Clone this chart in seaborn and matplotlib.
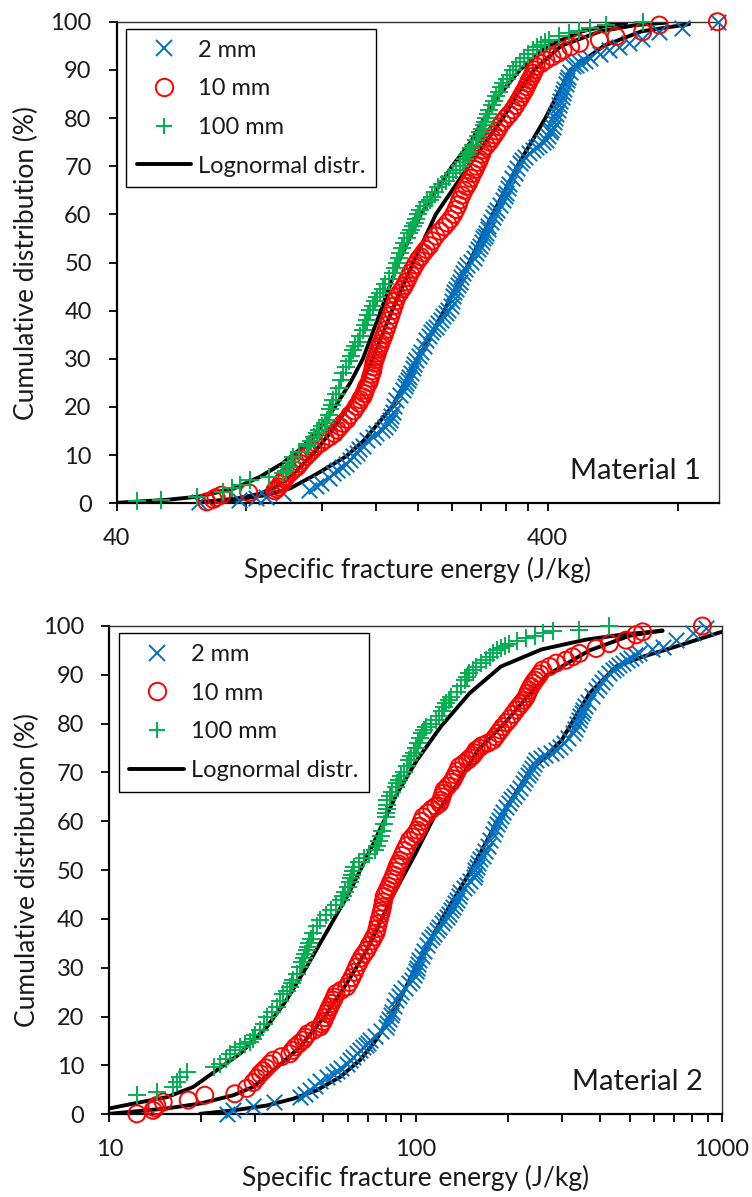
import numpy as np
import pandas as pd
import matplotlib
matplotlib.use("Agg")
import matplotlib.pyplot as plt
import seaborn as sns
from matplotlib.markers import MarkerStyle
from matplotlib.lines import Line2D
from matplotlib.ticker import NullFormatter

# ---------------- data: Material 1 ----------------
m1_2mm_energy = [62, 77, 84, 89, 97, 112, 116, 119, 124, 127, 130, 133, 136, 139, 141, 144, 146, 149, 152, 157,
                 160, 165, 168, 170, 172, 173, 175, 176, 178, 182, 185, 187, 188, 190, 191, 193, 195, 196, 198, 201,
                 203, 206, 209, 212, 214, 217, 220, 223, 226, 229, 232, 235, 238, 240, 241, 243, 245, 248, 250, 252,
                 254, 257, 260, 265, 270, 273, 276, 278, 281, 283, 286, 288, 290, 291, 295, 298, 302, 305, 310, 315,
                 318, 320, 323, 326, 331, 335, 340, 344, 349, 355, 362, 369, 376, 382, 389, 396, 400, 404, 408, 411,
                 414, 416, 419, 422, 425, 428, 431, 434, 437, 440, 443, 445, 451, 457, 465, 474, 487, 500, 530, 556,
                 585, 618, 660, 726, 818, 992]
m1_2mm_cum = [0.3, 0.6, 1.0, 1.4, 2.1, 2.8, 3.5, 4.2, 5.2, 6.2, 6.9, 7.5, 8.2, 9.0, 9.8, 10.5, 11.2, 12.0, 13.1, 13.8,
              14.5, 15.2, 15.9, 16.6, 17.3, 18.2, 19.0, 20.2, 21.4, 22.4, 23.5, 24.3, 25.0, 25.7, 26.3, 27.1, 28.0, 28.9, 29.8, 30.6,
              31.5, 32.6, 33.9, 34.7, 35.5, 36.1, 36.7, 37.4, 38.0, 38.8, 39.5, 40.2, 41.0, 42.0, 43.0, 43.8, 44.6, 45.3, 46.0, 46.9,
              47.8, 48.6, 49.5, 50.2, 51.0, 51.9, 52.7, 53.5, 54.3, 55.0, 55.6, 56.1, 56.9, 57.6, 58.5, 59.5, 60.3, 61.0, 62.0, 63.0,
              63.8, 64.5, 65.5, 66.4, 67.5, 68.5, 69.6, 70.6, 71.3, 72.0, 72.7, 73.4, 74.0, 74.5, 75.0, 75.5, 76.2, 77.0, 77.6, 78.2,
              79.1, 80.0, 80.8, 81.7, 82.6, 83.5, 84.3, 85.1, 86.0, 87.0, 87.8, 88.6, 89.6, 90.7, 91.0, 91.4, 91.9, 92.4, 93.3, 94.1,
              94.8, 95.5, 96.5, 97.9, 98.6, 100.0]

m1_10mm_energy = [64.7, 67, 68, 70, 81, 93, 94, 95, 96, 97, 98, 99, 101, 103, 105, 106.5, 108, 110, 112, 114,
                  116, 119, 122, 125, 128, 130, 132, 134, 137, 139, 142, 144, 146, 147, 149, 150, 151, 152, 154, 155,
                  156, 157, 157.5, 158, 159, 160, 161, 162, 163, 164, 165.5, 167, 168.5, 170, 171.5, 173, 174.5, 176, 177.5, 179,
                  181.5, 184, 186, 188, 190, 192, 194.5, 197, 200, 203, 206, 209, 213, 216, 220, 225, 230, 234, 238, 242,
                  245, 248, 250, 253, 256, 259, 262, 265, 268, 271, 273, 276, 278, 281, 283, 288, 293, 297, 301, 305,
                  309, 314, 320, 326, 332, 337, 342, 346, 350, 354, 357, 360, 363, 367, 370, 373, 376, 386, 396, 409,
                  422, 434, 452, 474, 527, 576, 664, 726, 990]
m1_10mm_cum = [0.3, 0.8, 1.2, 1.7, 2.2, 2.6, 3.0, 3.4, 4.0, 4.5, 5.0, 5.5, 6.3, 7.0, 7.6, 8.3, 9.0, 9.7, 10.4, 11.1,
               11.8, 12.5, 13.2, 13.8, 14.5, 15.2, 15.9, 16.6, 17.4, 18.3, 19.2, 20.1, 20.8, 21.5, 22.1, 22.8, 23.5, 24.2, 25.1, 26.0,
               26.8, 27.5, 28.3, 29.1, 29.8, 30.5, 31.2, 32.0, 32.6, 33.2, 34.1, 35.0, 36.0, 37.0, 38.0, 39.0, 40.0, 41.0, 42.0, 42.9,
               43.7, 44.5, 45.2, 46.0, 46.9, 47.8, 48.6, 49.5, 50.5, 51.2, 52.0, 52.7, 53.5, 54.5, 55.5, 56.5, 57.4, 58.2, 59.0, 60.0,
               61.0, 62.0, 63.0, 64.0, 65.0, 65.8, 66.5, 67.5, 68.5, 69.3, 70.0, 70.8, 71.5, 72.5, 73.4, 74.2, 75.0, 75.8, 76.5, 77.3,
               78.2, 79.1, 80.0, 80.8, 81.7, 82.6, 83.5, 84.3, 85.1, 85.8, 86.5, 87.2, 87.9, 88.6, 89.3, 90.0, 90.7, 91.3, 92.0, 92.7,
               93.4, 94.1, 94.8, 95.5, 96.2, 96.9, 97.9, 99.3, 100.0]

m1_100mm_energy = [44.5, 50.8, 61.3, 70.7, 74, 77.3, 81.5, 90, 97.4, 99, 100, 101.5, 102.8, 106, 110.4, 112, 113, 115, 116.5, 118,
                   120, 121.5, 122.8, 124, 125, 126, 127.3, 129, 131, 132.5, 134.2, 136, 138, 140, 141.6, 143, 145, 147, 149.3, 150.5,
                   152, 153.5, 154.8, 157, 159, 161, 163.4, 165.5, 168, 171, 175, 177, 179, 180.5, 182, 184, 186, 188.5, 191, 193,
                   195, 196.5, 198, 200, 202, 206, 210, 213, 216, 219, 223, 227, 232, 236, 241, 245, 250, 254, 257, 260,
                   263, 266, 268, 273, 276, 279, 282, 284, 286, 288, 290.5, 293, 296.5, 300, 304, 308, 311.5, 315, 321, 327,
                   332, 338, 345, 352, 360, 369, 377, 385, 394, 403, 425, 449, 472, 500, 546, 664]
m1_100mm_cum = [0.4, 0.7, 1.4, 2.4, 3.2, 3.8, 4.8, 5.5, 6.2, 6.8, 7.5, 8.5, 9.7, 10.7, 11.8, 12.4, 13.0, 13.7, 14.5, 15.2,
                16.0, 16.6, 17.3, 18.3, 19.5, 20.5, 21.5, 22.7, 24.0, 25.5, 27.0, 28.2, 29.5, 30.6, 31.8, 32.6, 33.5, 34.7, 36.0, 37.0,
                38.0, 39.0, 40.1, 41.0, 42.0, 42.8, 43.6, 44.5, 45.5, 46.6, 47.8, 48.9, 50.0, 51.0, 52.0, 53.0, 54.0, 55.0, 56.1, 56.8,
                57.5, 58.3, 59.0, 60.0, 60.9, 61.7, 62.5, 63.0, 63.5, 64.6, 65.7, 66.4, 67.0, 67.8, 68.5, 69.3, 70.0, 70.8, 71.5, 72.3,
                73.0, 73.8, 74.5, 75.4, 76.2, 77.0, 77.8, 78.5, 79.2, 80.0, 80.9, 81.7, 82.6, 83.5, 84.5, 85.5, 86.4, 87.2, 88.1, 89.0,
                89.9, 90.7, 91.6, 92.5, 93.3, 94.1, 94.7, 95.2, 95.7, 96.2, 97.0, 97.6, 98.1, 98.6, 99.3, 100.0]

# lognormal fits, Material 1 (energy read at cumulative levels)
m1_fit_2mm_energy = [62, 75, 89, 101, 117, 136, 150, 174, 200, 230, 263, 298, 340, 395, 452, 540, 660, 851]
m1_fit_2mm_cum = [0.2, 0.7, 1.7, 3.1, 6.2, 9.7, 13.1, 20, 30, 40, 50, 60, 70, 80, 90, 95, 98, 99.5]
m1_fit_10mm_energy = [62, 76, 86, 94, 101, 108, 116, 126, 138, 148, 157, 174, 195, 220, 262, 315, 340, 372, 430, 530, 640, 753]
m1_fit_10mm_cum = [0.2, 1, 2, 3.5, 5.5, 8, 11, 15, 20, 25, 30, 40, 50, 60, 70, 80, 85, 90, 95, 98, 99.3, 99.8]
m1_fit_100mm_energy = [40, 52, 62, 75, 86, 97, 106, 116, 127, 139, 149, 164, 180, 203, 240, 265, 285, 310, 345, 400, 480, 550, 608]
m1_fit_100mm_cum = [0.1, 0.7, 1.4, 3.1, 5.5, 8.3, 11.1, 14.5, 19.4, 24.9, 30, 40, 50, 60, 70, 75, 80, 85, 90, 95, 98, 99.2, 99.7]

# ---------------- data: Material 2 ----------------
m2_2mm_energy = [24.2, 25.4, 29.5, 34.4, 42.0, 43.5, 45.2, 47, 48.8, 51.3, 53.9, 55.4, 57, 59.6, 61, 62.5, 64.2, 65.9, 67.4, 69,
                 70, 71.0, 74, 77, 80.1, 81, 82, 83, 84, 85.2, 86.4, 88.2, 90, 92.7, 95.5, 97.2, 99, 100, 101, 102,
                 103, 105, 107, 109, 110.9, 113, 115, 117.3, 119.6, 121.8, 124, 126.5, 128.9, 131, 133, 135, 137, 138.5, 140, 143.5,
                 147, 151, 155, 156, 157, 158.5, 160, 163, 166, 169, 172, 175.4, 178.8, 182, 185, 187.5, 190, 193.8, 197.6, 201.3,
                 205, 210, 215, 219.5, 223.9, 228.5, 233, 236.5, 240, 243.8, 247.6, 256, 265, 276, 287.5, 296, 305, 315.5, 326, 331.5,
                 337, 341, 345, 348.5, 352, 358.5, 365, 377, 388.6, 397, 405, 417, 430, 440, 450, 462, 475, 490, 505, 522,
                 538, 590, 641, 709, 804, 889]
m2_2mm_cum = [0.1, 0.8, 1.8, 2.5, 3.5, 4.2, 4.9, 5.8, 6.9, 7.6, 8.3, 8.9, 9.4, 10.4, 11.1, 11.8, 12.5, 13.1, 13.7, 14.2,
              14.7, 15.2, 16.0, 17.0, 17.9, 18.7, 19.5, 20.3, 21.0, 22.2, 23.4, 24.2, 25.0, 25.9, 26.8, 27.6, 28.5, 29.3, 30.0, 30.8,
              31.6, 32.5, 33.5, 34.6, 35.7, 36.3, 37.0, 37.7, 38.4, 39.1, 39.8, 40.5, 41.1, 41.8, 42.5, 43.2, 43.9, 44.7, 45.5, 46.3,
              47.0, 47.8, 48.6, 49.3, 50.0, 50.7, 51.4, 52.2, 53.0, 54.0, 55.0, 56.2, 57.5, 58.5, 59.5, 60.2, 61.0, 62.0, 63.0, 63.7,
              64.5, 65.2, 66.0, 66.9, 67.8, 68.7, 69.5, 70.2, 71.0, 71.7, 72.5, 73.0, 73.5, 74.0, 74.6, 75.3, 76.0, 77.0, 78.0, 79.0,
              80.0, 80.8, 81.5, 82.2, 82.8, 83.6, 84.5, 85.7, 86.9, 87.7, 88.5, 89.4, 90.3, 90.9, 91.5, 92.0, 92.4, 93.0, 93.5, 94.0,
              94.4, 95.2, 95.8, 97.1, 98.5, 99.5]

m2_10mm_energy = [12.3, 13.9, 14.1, 14.3, 15.0, 18.1, 20.5, 25.7, 28.1, 29.5, 30.3, 31.1, 31.8, 32.5, 33.4, 34.4, 36.5, 38.9, 39.7, 40.5,
                  41.7, 43.0, 43.7, 44.5, 46.5, 48.8, 49.4, 50, 50.6, 51.3, 51.9, 52.5, 53.2, 53.9, 54.4, 55, 57.2, 59.6, 60.8, 62,
                  63.2, 64.3, 65.4, 66.5, 67.9, 69.3, 70.6, 72, 73.1, 74.3, 74.9, 75.5, 76.2, 77, 77.5, 78, 78.5, 79, 80, 81,
                  82, 83, 84, 85, 86, 87, 88, 89, 90.5, 92, 93.7, 95.5, 97.7, 100, 101.5, 103, 104.5, 106, 109.5, 113,
                  116.5, 120, 121, 122, 123, 124, 127.5, 131, 133, 135, 137, 139, 143.5, 148, 151, 154, 156, 158, 161.5, 165,
                  172, 179, 182.5, 186, 189.5, 193, 198, 203, 208, 213, 217.5, 222, 226, 230, 232.5, 235, 238.5, 242, 246, 250,
                  255, 260, 274, 288, 310, 326, 343, 389, 430, 487, 525, 552, 865]
m2_10mm_cum = [0.1, 0.8, 1.3, 1.8, 2.5, 2.9, 3.9, 4.2, 5.3, 6.5, 7.4, 8.3, 8.9, 9.5, 10.3, 11.1, 11.8, 12.4, 13.1, 13.8,
               14.5, 15.2, 15.8, 16.5, 17.2, 17.9, 18.5, 19.0, 19.8, 20.6, 21.3, 22.0, 22.7, 23.4, 24.0, 24.7, 25.4, 26.1, 27.0, 28.0,
               29.1, 30.2, 31.1, 32.0, 32.8, 33.6, 34.6, 35.5, 36.3, 37.1, 38.0, 39.0, 40.0, 41.0, 41.7, 42.5, 43.5, 44.6, 45.3, 46.0,
               46.7, 47.5, 48.2, 49.0, 49.8, 50.7, 51.3, 52.0, 53.0, 54.0, 55.0, 56.1, 56.8, 57.5, 58.2, 59.0, 60.0, 60.9, 61.7, 62.5,
               63.1, 63.7, 64.3, 65.0, 65.7, 66.4, 67.2, 68.0, 68.7, 69.5, 70.3, 71.2, 71.8, 72.5, 73.0, 73.5, 74.0, 74.6, 75.0, 75.5,
               76.0, 76.6, 77.3, 78.0, 78.7, 79.4, 80.2, 81.0, 81.9, 82.8, 83.5, 84.2, 84.8, 85.5, 86.2, 86.9, 87.6, 88.3, 88.9, 89.5,
               90.2, 91.0, 91.7, 92.4, 93.0, 93.7, 94.4, 95.4, 96.4, 97.1, 98.2, 98.8, 100.0]

m2_100mm_energy = [12.3, 14.3, 16.2, 16.6, 17.0, 17.9, 21.9, 23.0, 24, 24.8, 25.8, 26.7, 27.8, 28.8, 29.4, 30, 31.1, 31.9, 32.7, 34,
                   35.2, 36, 37, 38, 39, 39.5, 39.9, 41, 42.0, 42.6, 43.2, 43.7, 44.1, 44.6, 45, 45.7, 46.4, 47.6, 48.8, 51,
                   53, 55, 57, 58, 59, 60, 61, 61.5, 62, 62.5, 63, 65.5, 68, 70.5, 73.5, 75, 76, 77, 78, 79,
                   80.1, 80.3, 80.5, 80.8, 81, 82.5, 84, 86.4, 87.2, 88, 90, 92, 93.5, 95, 97, 99, 100.5, 102, 103.5, 105,
                   106.5, 108, 112, 116.7, 119.5, 122, 124, 126, 128.5, 131, 137, 141, 145, 147.5, 150, 154, 158, 164, 170, 174.5,
                   179, 184.5, 190, 196, 202, 215, 230, 245, 260, 281, 343, 430]
m2_100mm_cum = [3.9, 4.6, 5.6, 6.6, 7.6, 8.7, 9.7, 10.4, 11.4, 12.4, 13.1, 13.8, 14.3, 14.8, 15.5, 16.2, 17.2, 18.5, 19.9, 21.0,
                22.0, 23.3, 24.7, 25.3, 26.0, 26.8, 27.5, 28.8, 30.2, 31.1, 32.0, 32.8, 33.6, 34.3, 35.0, 36.0, 37.1, 38.5, 39.8, 40.8,
                41.8, 42.9, 43.9, 44.7, 45.5, 46.5, 47.5, 48.3, 49.0, 49.8, 50.7, 51.6, 52.5, 53.3, 54.1, 55.0, 56.0, 57.0, 58.0, 59.5,
                60.9, 61.7, 62.5, 63.4, 64.3, 65.2, 66.0, 67.1, 67.8, 68.5, 69.3, 70.0, 71.3, 72.5, 73.3, 74.0, 75.0, 76.0, 77.0, 78.0,
                78.7, 79.4, 80.0, 80.7, 81.6, 82.5, 83.4, 84.2, 84.9, 85.5, 86.5, 87.7, 88.9, 89.6, 90.3, 91.0, 91.7, 92.4, 93.0, 93.7,
                94.4, 95.0, 95.5, 96.0, 96.4, 97.0, 97.5, 98.0, 98.5, 99.0, 99.2, 100.0]

m2_fit_2mm_energy = [19.8, 25.4, 32.7, 39.9, 47.5, 56.6, 65.9, 74.3, 86.4, 100, 122, 152, 185, 235, 300, 370, 452, 552, 709, 1000]
m2_fit_2mm_cum = [0.1, 0.8, 1.8, 3.2, 4.9, 7.6, 11.1, 15.2, 22, 30, 40, 50, 60, 70, 76.6, 86.2, 91.7, 93.7, 95.8, 98.8]
m2_fit_10mm_energy = [10, 15.4, 19.8, 25.4, 29.5, 34.4, 42, 51.3, 59.6, 69.3, 85, 100, 115, 135, 160, 195, 228, 270, 370, 500, 640]
m2_fit_10mm_cum = [0.1, 1.2, 2.2, 3.9, 5.6, 9, 13.8, 20.6, 26.8, 33.6, 45.2, 53.4, 60.9, 67.1, 74.6, 80, 85, 90, 95, 98, 99.1]
m2_fit_100mm_energy = [10, 12, 15.4, 18.8, 22.4, 26.7, 32.7, 37.9, 44.1, 51, 60.5, 72, 87, 101, 121, 150, 190, 258, 360, 480, 641]
m2_fit_100mm_cum = [1.2, 2.2, 3.5, 5.6, 9, 12.4, 17.9, 23.4, 30.2, 37.1, 45.2, 54.8, 65.7, 72.5, 79.4, 86.2, 91.7, 95.2, 97.2, 98.3, 99.0]

series_labels = ["2 mm", "10 mm", "100 mm"]
fit_label = "Lognormal distr."
panel_titles = ["Material 1", "Material 2"]
y_ticks = [0, 10, 20, 30, 40, 50, 60, 70, 80, 90, 100]
m1_xticks = [40, 400]
m1_xminor = [80, 120, 160, 200, 240, 280, 320, 360, 800]
m2_xticks = [10, 100, 1000]
m2_xminor = [20, 30, 40, 50, 60, 70, 80, 90, 200, 300, 400, 500, 600, 700, 800, 900]
xlabel = "Specific fracture energy (J/kg)"
ylabel = "Cumulative distribution (%)"

# ---------------- styling ----------------
sns.set_theme(style="white")
plt.rcParams['font.family'] = ['Lato', 'DejaVu Sans']

BLUE = "#0070C0"
RED = "#FF0000"
GREEN = "#00B050"
TXT = "#1a1a1a"
FS_TICK = 17
FS_LEG = 17
FS_LAB = 19
FS_TITLE = 21

W, H = 752, 1197
fig = plt.figure(figsize=(W / 100, H / 100), dpi=100)


def px_axes(left, top, right, bottom):
    return fig.add_axes([left / W, 1 - bottom / H, (right - left) / W, (bottom - top) / H])


ax1 = px_axes(116.7, 21.7, 719.3, 503.3)
ax2 = px_axes(109.3, 626.0, 721.7, 1114.3)

circle = MarkerStyle('o', fillstyle='none')


def draw(ax, data, fits, xlim, xticks, xminor, title, ylab_x, xlab_y):
    ax.set_xscale('log')
    for fx, fy in fits:
        sns.lineplot(x=fx, y=fy, ax=ax, color='black', lw=2.8, sort=False,
                     estimator=None, zorder=2, legend=False)
    (bx, by), (rx, ry), (gx, gy) = data
    sns.scatterplot(x=bx, y=by, ax=ax, marker='x', color=BLUE, s=125,
                    linewidth=1.4, zorder=3, legend=False)
    sns.scatterplot(x=rx, y=ry, ax=ax, marker=circle, color=RED, s=150,
                    linewidth=1.4, zorder=4, legend=False)
    sns.scatterplot(x=gx, y=gy, ax=ax, marker='+', color=GREEN, s=150,
                    linewidth=1.4, zorder=5, legend=False)
    ax.set_xlim(*xlim)
    ax.set_ylim(0, 100)
    ax.set_xticks(xticks)
    ax.set_xticklabels([str(t) for t in xticks])
    ax.set_xticks(xminor, minor=True)
    ax.xaxis.set_minor_formatter(NullFormatter())
    ax.set_yticks(y_ticks)
    ax.set_yticklabels([str(t) for t in y_ticks])
    ax.tick_params(axis='both', which='both', direction='out', length=6, width=1.3,
                   colors='black', labelcolor=TXT, labelsize=FS_TICK)
    ax.tick_params(axis='x', which='both', bottom=True, top=False, pad=12)
    ax.tick_params(axis='y', which='both', left=True, right=False, pad=12)
    for side in ['left', 'bottom']:
        ax.spines[side].set_linewidth(1.6)
        ax.spines[side].set_color('black')
    for side in ['top', 'right']:
        ax.spines[side].set_linewidth(1.0)
        ax.spines[side].set_color('#303030')
    ax.set_xlabel(xlabel, fontsize=FS_LAB, color=TXT)
    ax.set_ylabel(ylabel, fontsize=FS_LAB, color=TXT)
    ax.xaxis.label.set_va('center')
    ax.yaxis.label.set_va('center')
    ax.xaxis.set_label_coords(0.5, xlab_y)
    ax.yaxis.set_label_coords(ylab_x, 0.5)
    ax.text(0.97, 0.04, title, transform=ax.transAxes, ha='right', va='bottom',
            fontsize=FS_TITLE, color=TXT)
    handles = [
        Line2D([], [], marker='x', color=BLUE, linestyle='None', markersize=11, mew=1.4),
        Line2D([], [], marker='o', mfc='none', mec=RED, color=RED, linestyle='None', markersize=12.5, mew=1.4),
        Line2D([], [], marker='+', color=GREEN, linestyle='None', markersize=12, mew=1.4),
        Line2D([], [], color='black', lw=2.8),
    ]
    leg = ax.legend(handles, series_labels + [fit_label], loc='upper left',
                    bbox_to_anchor=(0.0155, 0.985), borderaxespad=0, frameon=True,
                    fancybox=False, shadow=False, fontsize=FS_LEG, handlelength=2.3,
                    handletextpad=0.3, labelspacing=0.75, borderpad=0.45)
    leg.get_frame().set_edgecolor('black')
    leg.get_frame().set_linewidth(1.0)
    leg.get_frame().set_facecolor('white')
    leg.get_frame().set_alpha(1)
    for t in leg.get_texts():
        t.set_color(TXT)
    leg.set_zorder(10)


draw(ax1,
     [(m1_2mm_energy, m1_2mm_cum), (m1_10mm_energy, m1_10mm_cum), (m1_100mm_energy, m1_100mm_cum)],
     [(m1_fit_2mm_energy, m1_fit_2mm_cum), (m1_fit_10mm_energy, m1_fit_10mm_cum),
      (m1_fit_100mm_energy, m1_fit_100mm_cum)],
     (40, 1000), m1_xticks, m1_xminor, panel_titles[0], -0.149, -0.1385)

draw(ax2,
     [(m2_2mm_energy, m2_2mm_cum), (m2_10mm_energy, m2_10mm_cum), (m2_100mm_energy, m2_100mm_cum)],
     [(m2_fit_2mm_energy, m2_fit_2mm_cum), (m2_fit_10mm_energy, m2_fit_10mm_cum),
      (m2_fit_100mm_energy, m2_fit_100mm_cum)],
     (10, 1000), m2_xticks, m2_xminor, panel_titles[1], -0.134, -0.130)

for ax in (ax1, ax2):
    for coll in ax.collections:
        coll.set_clip_on(False)

fig.savefig("out.png", dpi=100)
